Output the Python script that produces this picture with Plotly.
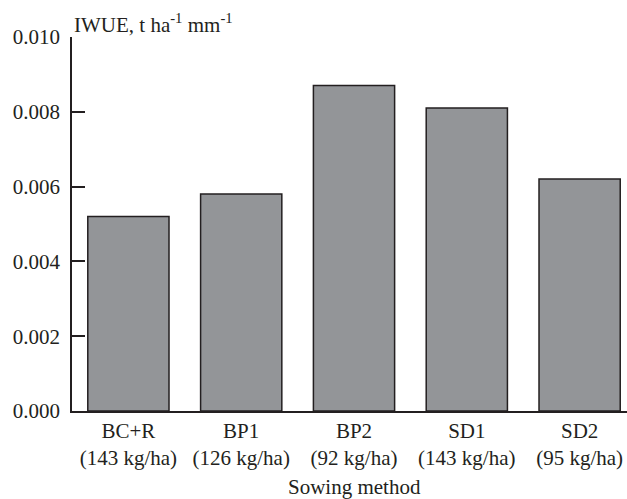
import plotly.graph_objects as go

# Sowing methods, seed rates and irrigation water use efficiency
methods = ["BC+R", "BP1", "BP2", "SD1", "SD2"]
seed_rates = ["143 kg/ha", "126 kg/ha", "92 kg/ha", "143 kg/ha", "95 kg/ha"]
iwue = [0.0052, 0.0058, 0.0087, 0.0081, 0.0062]
y_ticks = [0.000, 0.002, 0.004, 0.006, 0.008, 0.010]

labels = [f"{m}<br>({r})" for m, r in zip(methods, seed_rates)]

FONT = "Times New Roman"
INK = "#231f20"

fig = go.Figure(
    go.Bar(
        x=labels,
        y=iwue,
        width=0.72,
        marker=dict(color="#939598", line=dict(color=INK, width=1.5)),
    )
)

fig.update_layout(
    width=627,
    height=499,
    margin=dict(l=72, r=0, t=37, b=88),
    paper_bgcolor="white",
    plot_bgcolor="white",
    showlegend=False,
    font=dict(family=FONT, size=21, color=INK),
)

fig.update_xaxes(
    type="category",
    range=[-0.5, 4.42],
    showline=True,
    linecolor=INK,
    linewidth=1.5,
    ticks="",
    showgrid=False,
    tickfont=dict(family=FONT, size=21, color=INK),
)

fig.update_yaxes(
    range=[0, 0.010],
    tickvals=y_ticks,
    tickformat=".3f",
    ticks="inside",
    ticklen=13,
    tickwidth=1.5,
    tickcolor=INK,
    showline=True,
    linecolor=INK,
    linewidth=1.5,
    showgrid=False,
    zeroline=False,
    ticklabelstandoff=6,
    tickfont=dict(family=FONT, size=21, color=INK),
)

# Y-axis title sits above the axis, x-axis title below the category labels
fig.add_annotation(
    text="IWUE, t ha<sup>-1</sup> mm<sup>-1</sup>",
    xref="paper", yref="paper", x=0, y=1,
    xanchor="left", yanchor="bottom", yshift=-2,
    showarrow=False,
    font=dict(family=FONT, size=21, color=INK),
)
fig.add_annotation(
    text="Sowing method",
    xref="x", yref="paper", x=labels[2], y=0,
    xanchor="center", yanchor="middle", yshift=-76,
    showarrow=False,
    font=dict(family=FONT, size=21, color=INK),
)

fig.write_html("out.html")
